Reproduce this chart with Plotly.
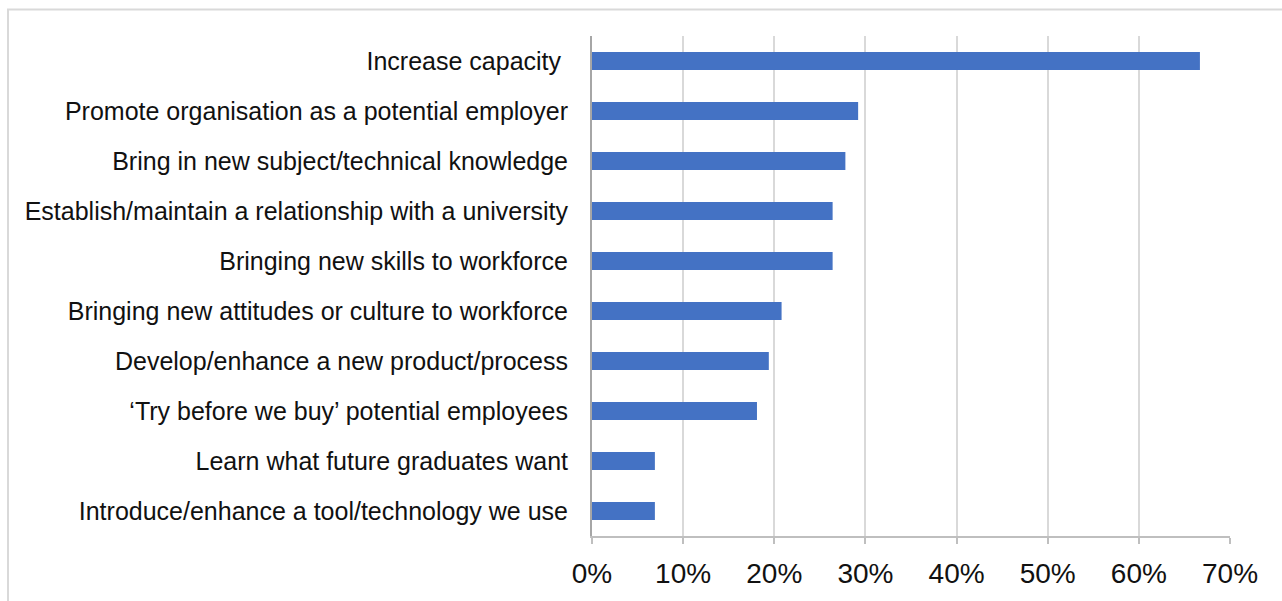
import plotly.graph_objects as go

categories = [
    "Increase capacity\u00a0",
    "Promote organisation as a potential employer",
    "Bring in new subject/technical knowledge",
    "Establish/maintain a relationship with a university",
    "Bringing new skills to workforce",
    "Bringing new attitudes or culture to workforce",
    "Develop/enhance a new product/process",
    "\u2018Try before we buy\u2019 potential employees",
    "Learn what future graduates want",
    "Introduce/enhance a tool/technology we use",
]
values = [66.7, 29.2, 27.8, 26.4, 26.4, 20.8, 19.4, 18.1, 6.9, 6.9]
tick_vals = [0, 10, 20, 30, 40, 50, 60, 70]
tick_text = ["0%", "10%", "20%", "30%", "40%", "50%", "60%", "70%"]

W, H = 1282, 601
L, R, T, B = 592, 52, 36, 57
pw, ph = W - L - R, H - T - B

fig = go.Figure(go.Bar(
    y=categories, x=values, orientation="h",
    marker=dict(color="#4472C4", line=dict(width=0)),
    hoverinfo="x+y",
))

def px_to_paper_x(px):
    return (px - L) / pw

def px_to_paper_y(py):
    return (H - B - py) / ph

fig.add_shape(type="rect", xref="paper", yref="paper",
              x0=px_to_paper_x(8), x1=px_to_paper_x(1300),
              y0=px_to_paper_y(620), y1=px_to_paper_y(9),
              line=dict(color="#d9d9d9", width=2), fillcolor="rgba(0,0,0,0)")

fig.update_layout(
    width=W, height=H,
    margin=dict(l=L, r=R, t=T, b=B, pad=0),
    paper_bgcolor="white", plot_bgcolor="white",
    bargap=0.64,
    showlegend=False,
    font=dict(family="Liberation Sans, Arial, sans-serif", color="#111111"),
    xaxis=dict(
        range=[0, 70], tickmode="array", tickvals=tick_vals, ticktext=tick_text,
        showgrid=True, gridcolor="#d9d9d9", gridwidth=2,
        showline=True, linecolor="#bfbfbf", linewidth=2,
        ticks="outside", ticklen=6, tickcolor="#bfbfbf", tickwidth=2,
        tickfont=dict(size=28, color="#111111"),
        ticklabelstandoff=5,
        zeroline=False, fixedrange=True,
    ),
    yaxis=dict(
        autorange="reversed",
        showline=True, linecolor="#a6a6a6", linewidth=2,
        ticks="", ticklabelstandoff=17,
        tickfont=dict(size=25, color="#111111"),
        showgrid=False, fixedrange=True,
    ),
)

fig.write_html("out.html")
